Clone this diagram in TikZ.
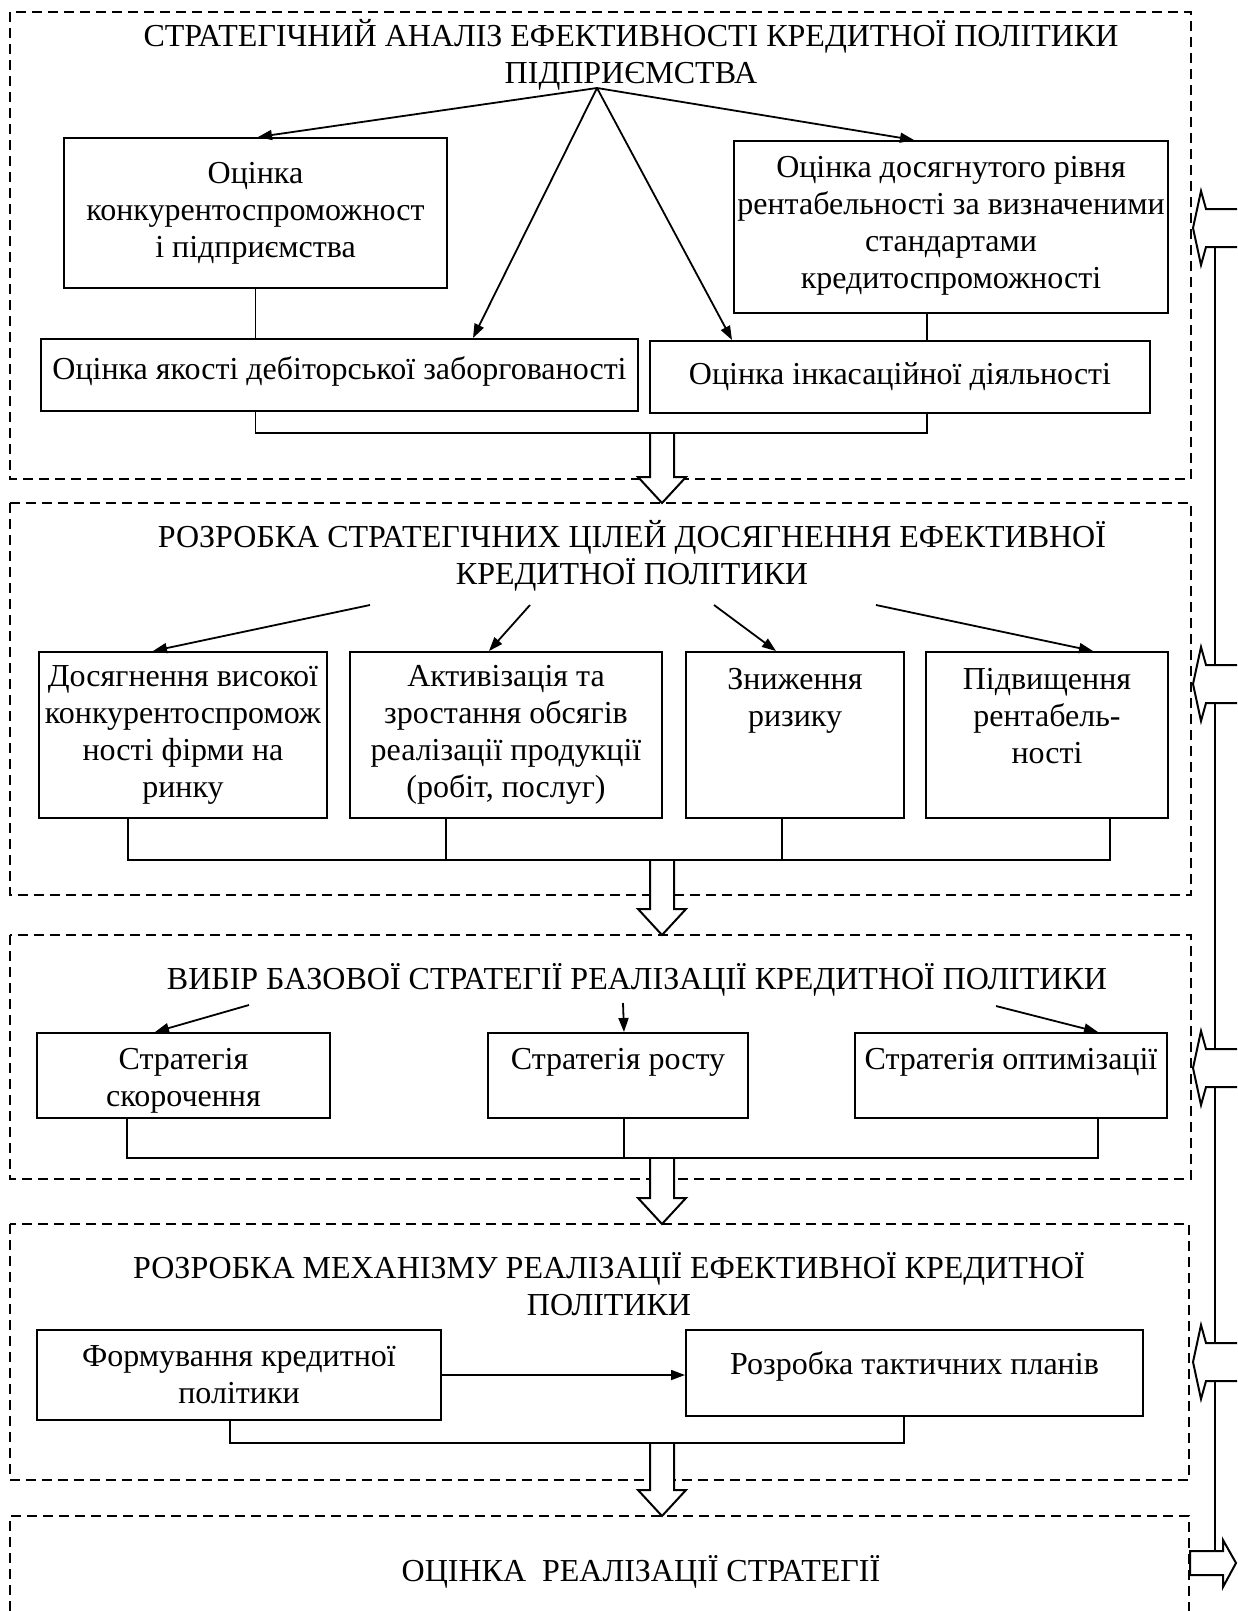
\documentclass[tikz,border=0pt]{standalone}
\usepackage{fontspec}
\setmainfont{Liberation Serif}
\usetikzlibrary{arrows.meta}
\newcommand\bx[7]{\node[bx] (#1) at (#2,#3) {\parbox[c][#5pt][t]{#4pt}{\centering\vspace*{#6pt}\begin{tabular}[t]{@{}c@{}}#7\end{tabular}}};}
\newcommand\darr[3]{\draw[hol] (#1-12,#2) -- (#1-12,#3-26) -- (#1-24,#3-26) -- (#1,#3) -- (#1+24,#3-26) -- (#1+12,#3-26) -- (#1+12,#2);}
\newcommand\larr[1]{\draw[hol] (1237,#1-19) -- (1206,#1-19) -- (1201,#1-37) -- (1193,#1) -- (1201,#1+37) -- (1206,#1+19) -- (1237,#1+19);}
\tikzset{
  frm/.style={draw, dash pattern=on 10pt off 6pt, line width=2.2pt},
  bx/.style={draw, line width=2pt, inner sep=0pt, anchor=north west},
  ttl/.style={inner sep=0pt, align=center},
  arr/.style={line width=1.8pt, -{Triangle[length=14pt,width=10pt]}},
  cn/.style={line width=1.8pt},
  hol/.style={draw, line width=2pt, fill=white, line join=miter},
}
\begin{document}
\begin{tikzpicture}[x=1pt,y=-1pt,font={\fontsize{32}{37}\selectfont}]
\useasboundingbox[fill=white] (0,0) rectangle (1237,1611);
% frames
\draw[frm] (10,12) rectangle (1191,479);
\draw[frm] (10,503) rectangle (1191,895);
\draw[frm] (10,935) rectangle (1191,1179);
\draw[frm] (10,1224) rectangle (1189,1480);
\draw[frm] (10,1611) -- (10,1516) -- (1189,1516) -- (1189,1611);
% block arrows between frames
\darr{662}{433}{503}
\darr{662}{860}{935}
\darr{662}{1158}{1224}
\darr{662}{1443}{1516}
% right side feedback
\draw[line width=2pt] (1215,247) -- (1215,1551);
\larr{228}
\larr{684}
\larr{1068}
\larr{1362}
\draw[hol] (1190,1551) -- (1223,1551) -- (1223,1540) -- (1236,1563) -- (1223,1587) -- (1223,1575) -- (1190,1575) -- cycle;
% titles
\node[ttl] (t1) at (631,55) {СТРАТЕГІЧНИЙ АНАЛІЗ ЕФЕКТИВНОСТІ КРЕДИТНОЇ ПОЛІТИКИ\\ПІДПРИЄМСТВА};
\node[ttl] (t2) at (632,556) {РОЗРОБКА СТРАТЕГІЧНИХ ЦІЛЕЙ ДОСЯГНЕННЯ ЕФЕКТИВНОЇ\\КРЕДИТНОЇ ПОЛІТИКИ};
\node[ttl] (t3) at (637,980) {ВИБІР БАЗОВОЇ СТРАТЕГІЇ РЕАЛІЗАЦІЇ КРЕДИТНОЇ ПОЛІТИКИ};
\node[ttl] (t4) at (609,1284) {РОЗРОБКА МЕХАНІЗМУ РЕАЛІЗАЦІЇ ЕФЕКТИВНОЇ КРЕДИТНОЇ\\ПОЛІТИКИ};
\node[ttl] (t5) at (641,1572) {ОЦІНКА~~РЕАЛІЗАЦІЇ СТРАТЕГІЇ};
% frame 1 boxes
\bx{b11}{63}{137}{383}{150}{20}{Оцінка\\конкурентоспроможност\\і підприємства}
\bx{b12}{733}{140}{434}{172}{11}{Оцінка досягнутого рівня\\рентабельності за визначеними\\стандартами\\кредитоспроможності}
\bx{b13}{40}{338}{597}{72}{15}{Оцінка якості дебіторської заборгованості}
\bx{b14}{649}{340}{500}{72}{18}{Оцінка інкасаційної діяльності}
\coordinate (ap1) at (597,88);
\draw[arr] (ap1) -- ([xshift=2.5pt]b11.north);
\draw[arr] (ap1) -- ([xshift=133.5pt]b13.north);
\draw[arr] (ap1) -- ([xshift=-168pt]b14.north);
\draw[arr] (ap1) -- ([xshift=-37pt]b12.north);
\draw[cn] (b11.south) -- (b11.south |- b13.north);
\coordinate (c12) at ([xshift=-24pt]b12.south);
\draw[cn] (c12) -- (c12 |- b14.north);
\coordinate (br1) at (662,433);
\draw[cn] (b11.south |- b13.south) -- (b11.south |- br1) -- (c12 |- br1) -- (c12 |- b14.south);
% frame 2 boxes
\bx{g1}{38}{651}{288}{166}{9}{Досягнення високої\\конкурентоспромож\\ності фірми на\\ринку}
\bx{g2}{349}{651}{312}{166}{9}{Активізація та\\зростання обсягів\\реалізації продукції\\(робіт, послуг)}
\bx{g3}{685}{651}{218}{166}{12}{Зниження\\ризику}
\bx{g4}{925}{651}{242}{166}{12}{Підвищення\\рентабель-\\ності}
\coordinate (a21) at (370,605);
\coordinate (a22) at (530,605);
\coordinate (a23) at (714,605);
\coordinate (a24) at (876,605);
\draw[arr] (a21) -- ([xshift=-30pt]g1.north);
\draw[arr] (a22) -- ([xshift=-17pt]g2.north);
\draw[arr] (a23) -- ([xshift=-19pt]g3.north);
\draw[arr] (a24) -- ([xshift=46pt]g4.north);
\coordinate (br2) at (662,860);
\coordinate (k1) at ([xshift=-55pt]g1.south);
\coordinate (k2) at ([xshift=-60pt]g2.south);
\coordinate (k3) at ([xshift=-13pt]g3.south);
\coordinate (k4) at ([xshift=63pt]g4.south);
\draw[cn] (k1) -- (k1 |- br2) -- (k4 |- br2) -- (k4);
\draw[cn] (k2) -- (k2 |- br2);
\draw[cn] (k3) -- (k3 |- br2);
% frame 3 boxes
\bx{s1}{36}{1032}{293}{85}{11}{Стратегія\\скорочення}
\bx{s2}{487}{1032}{260}{85}{11}{Стратегія росту}
\bx{s3}{854}{1032}{312}{85}{11}{Стратегія оптимізації}
\coordinate (a31) at (249,1005);
\coordinate (a32) at (623,1003);
\coordinate (a33) at (996,1006);
\draw[arr] (a31) -- ([xshift=-28.5pt]s1.north);
\draw[arr] (a32) -- ([xshift=6pt]s2.north);
\draw[arr] (a33) -- ([xshift=87pt]s3.north);
\coordinate (br3) at (662,1158);
\coordinate (q1) at ([xshift=-56.5pt]s1.south);
\coordinate (q2) at ([xshift=6pt]s2.south);
\coordinate (q3) at ([xshift=87pt]s3.south);
\draw[cn] (q1) -- (q1 |- br3) -- (q3 |- br3) -- (q3);
\draw[cn] (q2) -- (q2 |- br3);
% frame 4 boxes
\bx{m1}{36}{1329}{404}{90}{11}{Формування кредитної\\політики}
\bx{m2}{685}{1329}{457}{86}{19}{Розробка тактичних планів}
\draw[arr] (m1.east) -- (m1.east -| m2.west);
\coordinate (br4) at (662,1443);
\coordinate (r1) at ([xshift=-9pt]m1.south);
\coordinate (r2) at ([xshift=-10.5pt]m2.south);
\draw[cn] (r1) -- (r1 |- br4) -- (r2 |- br4) -- (r2);
\end{tikzpicture}
\end{document}
